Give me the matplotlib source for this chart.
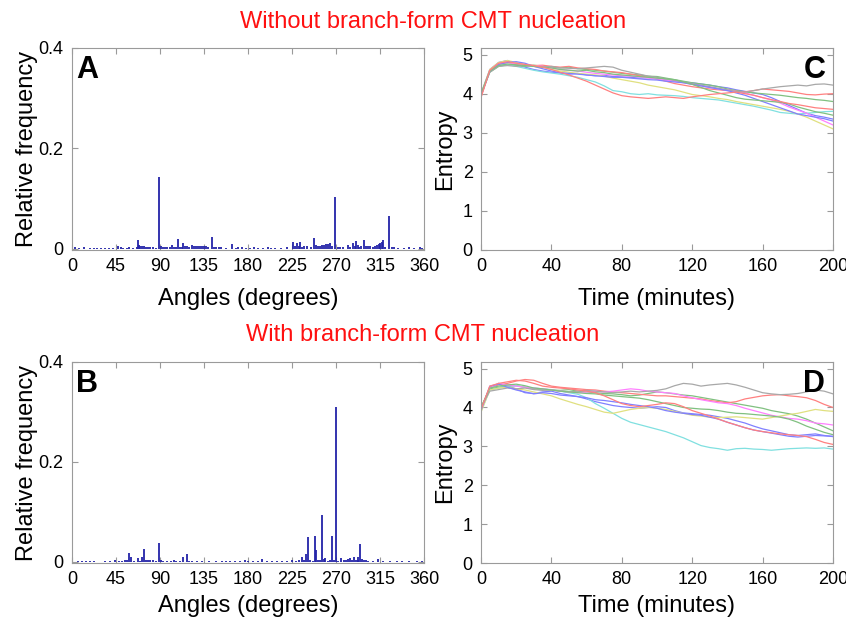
import matplotlib.pyplot as plt

plt.rcParams['font.family'] = ['Liberation Sans', 'DejaVu Sans']

# ---- data: angle histograms (degrees, relative frequency) ----
a_angles = [3, 7, 12, 18, 22, 26, 30, 34, 38, 42, 47, 50, 52, 56, 58, 62, 66, 68, 69, 70,
            72, 74, 76, 78, 80, 83, 86, 89, 91, 93, 95, 97, 100, 102, 104, 106, 108, 110, 112, 114,
            116, 118, 120, 123, 125, 127, 129, 131, 133, 135, 137, 139, 143, 145, 147, 150, 152, 157, 164, 168,
            170, 174, 178, 182, 186, 190, 195, 200, 204, 208, 214, 220, 226, 228, 230, 232, 233, 235, 237, 240,
            244, 248, 250, 252, 254, 256, 258, 260, 262, 264, 266, 269, 272, 274, 277, 282, 284, 287, 289, 290,
            292, 294, 296, 299, 301, 303, 305, 308, 310, 312, 314, 315, 317, 318, 320, 324, 327, 329, 333, 340,
            345, 350, 356, 358]
a_freq = [0.003, 0.002, 0.004, 0.002, 0.002, 0.002, 0.001, 0.002, 0.002, 0.002, 0.005, 0.003, 0.002, 0.002, 0.003, 0.002, 0.004, 0.017, 0.008, 0.006,
          0.005, 0.005, 0.004, 0.004, 0.003, 0.003, 0.002, 0.144, 0.005, 0.004, 0.003, 0.004, 0.003, 0.007, 0.003, 0.004, 0.020, 0.004, 0.003, 0.011,
          0.005, 0.006, 0.004, 0.007, 0.005, 0.006, 0.005, 0.006, 0.005, 0.006, 0.005, 0.004, 0.024, 0.004, 0.003, 0.003, 0.003, 0.002, 0.010, 0.002,
          0.004, 0.003, 0.002, 0.002, 0.003, 0.002, 0.002, 0.003, 0.002, 0.002, 0.002, 0.003, 0.014, 0.006, 0.011, 0.005, 0.013, 0.004, 0.006, 0.005,
          0.003, 0.022, 0.007, 0.005, 0.006, 0.008, 0.007, 0.010, 0.009, 0.011, 0.006, 0.104, 0.004, 0.003, 0.004, 0.007, 0.003, 0.012, 0.006, 0.016,
          0.008, 0.004, 0.005, 0.017, 0.006, 0.005, 0.006, 0.004, 0.005, 0.008, 0.010, 0.012, 0.014, 0.018, 0.004, 0.066, 0.004, 0.003, 0.002, 0.002,
          0.003, 0.002, 0.004, 0.002]

b_angles = [2, 6, 10, 14, 18, 23, 28, 34, 39, 44, 48, 51, 54, 56, 58, 60, 63, 67, 70, 72,
            74, 76, 78, 80, 83, 86, 89, 91, 93, 97, 101, 104, 106, 110, 114, 118, 120, 123, 128, 133,
            140, 147, 153, 158, 162, 167, 172, 177, 180, 185, 190, 194, 199, 205, 210, 215, 220, 225, 229, 232,
            235, 237, 239, 241, 243, 246, 249, 250, 252, 254, 256, 258, 259, 262, 264, 266, 268, 270, 272, 275,
            278, 280, 282, 284, 286, 288, 290, 292, 293, 295, 297, 299, 301, 303, 308, 313, 318, 325, 332, 338,
            345, 353, 358]
b_freq = [0.001, 0.003, 0.003, 0.002, 0.002, 0.002, 0.001, 0.002, 0.002, 0.005, 0.002, 0.003, 0.004, 0.005, 0.018, 0.011, 0.003, 0.009, 0.003, 0.010,
          0.026, 0.005, 0.004, 0.004, 0.004, 0.003, 0.038, 0.004, 0.002, 0.002, 0.003, 0.005, 0.002, 0.002, 0.010, 0.017, 0.003, 0.002, 0.002, 0.002,
          0.002, 0.002, 0.003, 0.002, 0.003, 0.002, 0.002, 0.004, 0.003, 0.002, 0.003, 0.007, 0.002, 0.002, 0.002, 0.003, 0.002, 0.004, 0.002, 0.004,
          0.011, 0.005, 0.016, 0.050, 0.004, 0.003, 0.053, 0.025, 0.004, 0.004, 0.095, 0.006, 0.008, 0.003, 0.004, 0.053, 0.004, 0.310, 0.003, 0.008,
          0.004, 0.005, 0.006, 0.008, 0.004, 0.011, 0.005, 0.004, 0.010, 0.036, 0.006, 0.004, 0.004, 0.003, 0.002, 0.006, 0.002, 0.002, 0.002, 0.003,
          0.002, 0.003, 0.002]

# ---- data: entropy over time, one run per list (every 5 minutes) ----
minutes = list(range(0, 201, 5))

c_runs = [
    [4.00, 4.62, 4.80, 4.85, 4.74, 4.68, 4.62, 4.58, 4.55, 4.53, 4.50, 4.52, 4.48, 4.46, 4.47, 4.44, 4.43, 4.42, 4.40, 4.41, 4.38,
     4.35, 4.33, 4.30, 4.28, 4.25, 4.22, 4.18, 4.15, 4.10, 4.06, 4.02, 3.98, 3.90, 3.80, 3.70, 3.60, 3.50, 3.44, 3.40, 3.35],
    [3.98, 4.55, 4.70, 4.74, 4.72, 4.70, 4.73, 4.70, 4.68, 4.66, 4.68, 4.64, 4.62, 4.60, 4.58, 4.55, 4.52, 4.50, 4.48, 4.45, 4.44,
     4.40, 4.36, 4.32, 4.28, 4.25, 4.22, 4.18, 4.12, 4.08, 4.05, 4.02, 4.00, 3.98, 3.96, 3.93, 3.90, 3.88, 3.85, 3.83, 3.80],
    [3.92, 4.60, 4.75, 4.80, 4.76, 4.74, 4.72, 4.73, 4.70, 4.68, 4.70, 4.66, 4.64, 4.62, 4.58, 4.56, 4.54, 4.50, 4.46, 4.42, 4.38,
     4.32, 4.26, 4.22, 4.18, 4.15, 4.12, 4.10, 4.08, 4.06, 4.05, 4.08, 4.12, 4.10, 4.08, 4.06, 4.02, 3.98, 3.97, 3.99, 4.00],
    [3.95, 4.58, 4.72, 4.75, 4.70, 4.65, 4.60, 4.56, 4.53, 4.50, 4.46, 4.42, 4.36, 4.30, 4.20, 4.08, 4.05, 4.00, 3.98, 4.00, 3.97,
     3.96, 3.95, 3.93, 3.90, 3.88, 3.86, 3.84, 3.80, 3.76, 3.72, 3.68, 3.63, 3.58, 3.52, 3.50, 3.48, 3.50, 3.52, 3.54, 3.55],
    [3.95, 4.60, 4.78, 4.80, 4.76, 4.74, 4.72, 4.70, 4.66, 4.62, 4.60, 4.58, 4.55, 4.52, 4.50, 4.48, 4.46, 4.45, 4.43, 4.40, 4.38,
     4.35, 4.32, 4.28, 4.24, 4.20, 4.16, 4.12, 4.10, 4.06, 4.02, 3.96, 3.90, 3.84, 3.76, 3.66, 3.58, 3.50, 3.40, 3.30, 3.20],
    [4.00, 4.62, 4.80, 4.85, 4.80, 4.75, 4.72, 4.68, 4.62, 4.58, 4.55, 4.52, 4.50, 4.48, 4.45, 4.40, 4.36, 4.32, 4.28, 4.22, 4.18,
     4.14, 4.10, 4.04, 3.98, 3.95, 3.92, 3.88, 3.85, 3.80, 3.76, 3.72, 3.68, 3.64, 3.60, 3.55, 3.48, 3.40, 3.30, 3.20, 3.10],
    [3.98, 4.55, 4.70, 4.72, 4.70, 4.72, 4.70, 4.68, 4.70, 4.66, 4.65, 4.64, 4.66, 4.68, 4.70, 4.68, 4.60, 4.55, 4.50, 4.45, 4.42,
     4.38, 4.34, 4.30, 4.26, 4.22, 4.18, 4.14, 4.10, 4.06, 4.04, 4.08, 4.12, 4.15, 4.18, 4.20, 4.22, 4.20, 4.24, 4.25, 4.22],
    [3.96, 4.58, 4.75, 4.80, 4.82, 4.78, 4.70, 4.64, 4.58, 4.54, 4.52, 4.50, 4.48, 4.46, 4.44, 4.42, 4.42, 4.40, 4.38, 4.36, 4.35,
     4.32, 4.30, 4.28, 4.24, 4.20, 4.16, 4.12, 4.08, 4.02, 3.96, 3.88, 3.80, 3.72, 3.64, 3.56, 3.48, 3.44, 3.40, 3.36, 3.30],
    [4.00, 4.58, 4.72, 4.76, 4.74, 4.72, 4.70, 4.68, 4.66, 4.62, 4.60, 4.58, 4.60, 4.56, 4.54, 4.50, 4.48, 4.46, 4.44, 4.42, 4.40,
     4.38, 4.36, 4.30, 4.24, 4.16, 4.08, 4.02, 3.96, 3.90, 3.86, 3.84, 3.82, 3.80, 3.78, 3.74, 3.66, 3.60, 3.54, 3.50, 3.45],
    [3.90, 4.60, 4.78, 4.82, 4.78, 4.75, 4.72, 4.68, 4.62, 4.55, 4.48, 4.40, 4.32, 4.22, 4.12, 4.02, 3.95, 3.92, 3.90, 3.88, 3.90,
     3.92, 3.90, 3.88, 3.92, 3.95, 3.98, 4.00, 4.02, 4.04, 4.00, 3.96, 3.90, 3.85, 3.80, 3.75, 3.72, 3.68, 3.64, 3.62, 3.60],
]

d_runs = [
    [3.95, 4.50, 4.62, 4.55, 4.48, 4.38, 4.36, 4.40, 4.42, 4.36, 4.32, 4.28, 4.22, 4.15, 4.10, 4.05, 4.02, 4.00, 3.98, 4.00, 4.02,
     4.00, 3.92, 3.86, 3.84, 3.82, 3.80, 3.76, 3.72, 3.66, 3.60, 3.52, 3.45, 3.40, 3.35, 3.30, 3.28, 3.30, 3.32, 3.28, 3.25],
    [4.00, 4.48, 4.52, 4.55, 4.56, 4.52, 4.48, 4.46, 4.45, 4.44, 4.46, 4.42, 4.40, 4.38, 4.36, 4.35, 4.33, 4.30, 4.32, 4.36, 4.40,
     4.38, 4.35, 4.32, 4.30, 4.26, 4.22, 4.18, 4.14, 4.10, 4.06, 4.02, 3.98, 3.92, 3.88, 3.84, 3.78, 3.70, 3.60, 3.50, 3.40],
    [3.95, 4.52, 4.58, 4.62, 4.68, 4.72, 4.70, 4.62, 4.55, 4.52, 4.50, 4.48, 4.46, 4.45, 4.42, 4.40, 4.38, 4.36, 4.34, 4.32, 4.30,
     4.30, 4.28, 4.26, 4.24, 4.22, 4.18, 4.15, 4.12, 4.15, 4.22, 4.26, 4.30, 4.32, 4.33, 4.30, 4.28, 4.25, 4.18, 4.08, 4.00],
    [3.90, 4.45, 4.50, 4.55, 4.56, 4.52, 4.50, 4.48, 4.46, 4.42, 4.38, 4.34, 4.25, 4.10, 3.98, 3.85, 3.72, 3.62, 3.56, 3.50, 3.44,
     3.38, 3.30, 3.22, 3.12, 3.02, 2.97, 2.94, 2.90, 2.94, 2.95, 2.93, 2.92, 2.90, 2.92, 2.94, 2.95, 2.96, 2.95, 2.96, 2.93],
    [3.95, 4.50, 4.62, 4.58, 4.55, 4.52, 4.50, 4.48, 4.45, 4.42, 4.40, 4.38, 4.40, 4.42, 4.40, 4.42, 4.45, 4.48, 4.46, 4.42, 4.40,
     4.38, 4.36, 4.30, 4.25, 4.20, 4.16, 4.12, 4.10, 4.05, 3.98, 3.92, 3.86, 3.80, 3.76, 3.72, 3.70, 3.66, 3.60, 3.58, 3.55],
    [3.88, 4.45, 4.50, 4.52, 4.48, 4.45, 4.40, 4.35, 4.30, 4.22, 4.15, 4.08, 4.02, 3.95, 3.88, 3.85, 3.90, 3.95, 3.98, 4.00, 3.98,
     3.95, 3.90, 3.85, 3.80, 3.78, 3.75, 3.74, 3.75, 3.76, 3.74, 3.72, 3.70, 3.74, 3.78, 3.82, 3.85, 3.90, 3.95, 3.92, 3.90],
    [4.00, 4.42, 4.46, 4.50, 4.48, 4.50, 4.46, 4.44, 4.45, 4.42, 4.40, 4.42, 4.44, 4.42, 4.40, 4.38, 4.40, 4.42, 4.40, 4.42, 4.44,
     4.48, 4.56, 4.62, 4.60, 4.55, 4.58, 4.60, 4.62, 4.58, 4.52, 4.45, 4.38, 4.35, 4.33, 4.34, 4.36, 4.40, 4.45, 4.42, 4.35],
    [3.92, 4.55, 4.60, 4.52, 4.45, 4.40, 4.35, 4.38, 4.36, 4.32, 4.30, 4.28, 4.25, 4.20, 4.18, 4.15, 4.12, 4.08, 4.05, 4.02, 3.98,
     3.92, 3.88, 3.85, 3.82, 3.80, 3.75, 3.70, 3.62, 3.55, 3.48, 3.42, 3.38, 3.34, 3.30, 3.26, 3.24, 3.26, 3.28, 3.27, 3.26],
    [4.00, 4.50, 4.55, 4.58, 4.60, 4.56, 4.50, 4.48, 4.45, 4.42, 4.40, 4.38, 4.36, 4.35, 4.32, 4.30, 4.28, 4.26, 4.24, 4.20, 4.15,
     4.10, 4.05, 4.00, 3.98, 3.96, 3.95, 3.92, 3.88, 3.85, 3.84, 3.82, 3.80, 3.78, 3.75, 3.70, 3.62, 3.52, 3.44, 3.36, 3.30],
    [3.95, 4.55, 4.62, 4.66, 4.70, 4.68, 4.62, 4.55, 4.52, 4.50, 4.48, 4.45, 4.42, 4.38, 4.30, 4.20, 4.10, 4.05, 4.02, 4.05, 4.08,
     4.12, 4.10, 4.02, 3.92, 3.85, 3.78, 3.70, 3.62, 3.55, 3.48, 3.42, 3.38, 3.35, 3.32, 3.30, 3.28, 3.25, 3.18, 3.10, 3.05],
]

# pale versions of matlab's b g r c m y k cycle
run_colors = ['#8080ff', '#80c080', '#ff8080', '#80e0e0', '#ff80ff',
              '#e0e080', '#a8a8a8', '#8080ff', '#80c080', '#ff8080']

fig = plt.figure(figsize=(8.46, 6.21), dpi=100)

W = 352 / 846
axA = fig.add_axes([72 / 846, 1 - 250 / 621, W, 202 / 621])
axC = fig.add_axes([481 / 846, 1 - 250 / 621, W, 202 / 621])
axB = fig.add_axes([72 / 846, 1 - 563 / 621, W, 201 / 621])
axD = fig.add_axes([481 / 846, 1 - 563 / 621, W, 201 / 621])


def style(ax):
    for s in ax.spines.values():
        s.set_color('#9a9a9a')
        s.set_linewidth(0.8)
    ax.tick_params(direction='in', length=4, width=0.8, color='#9a9a9a',
                   labelsize=13, top=True, right=True, pad=6)


for ax, ang, fr in [(axA, a_angles, a_freq), (axB, b_angles, b_freq)]:
    # thin spikes, one per 1-degree bin
    ax.vlines(ang, 0, fr, color='#2323a8', lw=1.3)
    ax.set_xlim(0, 360)
    ax.set_ylim(-0.002, 0.4)
    ax.set_xticks(range(0, 361, 45))
    ax.set_yticks([0, 0.2, 0.4])
    ax.set_yticklabels(['0', '0.2', '0.4'])
    ax.set_ylabel('Relative frequency', fontsize=17)
    ax.yaxis.set_label_coords(-0.098, 0.5)
    ax.set_xlabel('Angles (degrees)', fontsize=17, va='center')
    style(ax)

for ax, runs in [(axC, c_runs), (axD, d_runs)]:
    for vals, col in zip(runs, run_colors):
        ax.plot(minutes, vals, color=col, lw=0.9)
    ax.set_xlim(0, 200)
    ax.set_ylim(0, 5.17)
    ax.set_xticks(range(0, 201, 40))
    ax.set_yticks(range(0, 6))
    ax.set_ylabel('Entropy', fontsize=17)
    ax.yaxis.set_label_coords(-0.07, 0.5)
    ax.set_xlabel('Time (minutes)', fontsize=17, va='center')
    style(ax)

axA.xaxis.set_label_coords(0.5, -0.245)
axC.xaxis.set_label_coords(0.5, -0.245)
axB.xaxis.set_label_coords(0.5, -0.215)
axD.xaxis.set_label_coords(0.5, -0.215)

for ax, letter in [(axA, 'A'), (axB, 'B')]:
    ax.text(0.012, 0.965, letter, transform=ax.transAxes, fontsize=22,
            fontweight='bold', ha='left', va='top')
for ax, letter in [(axC, 'C'), (axD, 'D')]:
    ax.text(0.978, 0.965, letter, transform=ax.transAxes, fontsize=22,
            fontweight='bold', ha='right', va='top')

fig.text(433 / 846, 1 - 22 / 621, 'Without branch-form CMT nucleation',
         color='#ff1010', fontsize=17, ha='center', va='center')
fig.text(423 / 846, 1 - 335 / 621, 'With branch-form CMT nucleation',
         color='#ff1010', fontsize=17, ha='center', va='center')

fig.savefig('out.png', dpi=100)
